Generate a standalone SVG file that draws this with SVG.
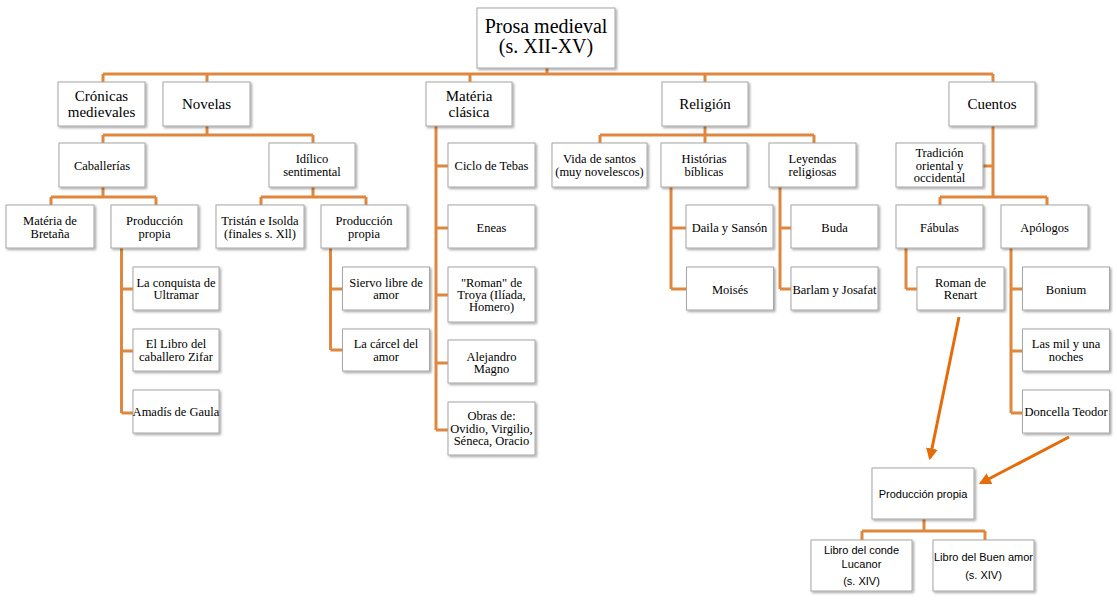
<svg xmlns="http://www.w3.org/2000/svg" width="1117" height="602" viewBox="0 0 1117 602">
<style>
.b{fill:#fff;stroke:#a6a6a6;stroke-width:1;filter:url(#sh)}
text{font-family:"Liberation Serif","Times New Roman",serif;fill:#000;text-anchor:middle}
.s{font-size:12.5px}
.m{font-size:15px}
.l{font-size:20px}
.ss{font-family:"Liberation Sans",Arial,sans-serif;font-size:11px}
.c{fill:none;stroke:#e0873f;stroke-width:3}
.a{fill:none;stroke:#e46c0a;stroke-width:3}
</style>
<defs>
<filter id="sh" x="-10%" y="-10%" width="130%" height="130%">
<feDropShadow dx="1.5" dy="1.5" stdDeviation="0.8" flood-color="#000" flood-opacity="0.35"/>
</filter>
<marker id="ah" viewBox="0 0 10 10" refX="8" refY="5" markerWidth="4" markerHeight="4" orient="auto" markerUnits="strokeWidth">
<path d="M0,0 L10,5 L0,10 z" fill="#e46c0a"/>
</marker>
</defs>
<rect width="1117" height="602" fill="#fff"/>
<g id="connectors">
<path class="c" d="M547,67V74 M103,74H993 M103,74V82 M207,74V82 M470,74V82 M705,74V82 M993,74V82"/>
<path class="c" d="M207,126V135 M103,135H313 M103,135V143 M313,135V143"/>
<path class="c" d="M705,126V135 M600,135H814 M600,135V143 M705,135V143 M814,135V143"/>
<path class="c" d="M436,126V430 M436,166H448 M436,228H448 M436,295H448 M436,363H448 M436,430H448"/>
<path class="c" d="M993,126V197 M983,166H993 M940,197H1047 M940,197V205 M1047,197V205"/>
<path class="c" d="M103,187V197 M51,197H156 M51,197V205 M156,197V205"/>
<path class="c" d="M313,187V197 M261,197H366 M261,197V205 M366,197V205"/>
<path class="c" d="M671,187V289 M671,228H686 M671,289H686"/>
<path class="c" d="M780,187V289 M780,228H791 M780,289H791"/>
<path class="c" d="M906,248V289 M906,289H917"/>
<path class="c" d="M1011,248V413 M1011,289H1022 M1011,351H1022 M1011,413H1022"/>
<path class="c" d="M121.5,248V413 M121.5,289H133 M121.5,351H133 M121.5,413H133"/>
<path class="c" d="M330.5,248V350 M330.5,289H342 M330.5,350H342"/>
<path class="c" d="M924,519V531 M862,531H985 M862,531V540 M985,531V540"/>
<line class="a" x1="959" y1="317" x2="930" y2="458" marker-end="url(#ah)"/>
<line class="a" x1="1069" y1="437" x2="981" y2="483" marker-end="url(#ah)"/>
</g>
<g id="root"><rect class="b" x="477" y="8" width="138" height="60"/><text class="l" x="546" y="33">Prosa medieval</text><text class="l" x="546" y="53">(s. XII-XV)</text></g>
<g id="cronicas"><rect class="b" x="58" y="82" width="87" height="44"/><text class="m" x="101.5" y="101">Crónicas</text><text class="m" x="101.5" y="117">medievales</text></g>
<g id="novelas"><rect class="b" x="163" y="82" width="87" height="44"/><text class="m" x="206.5" y="109">Novelas</text></g>
<g id="materia"><rect class="b" x="426" y="82" width="86" height="44"/><text class="m" x="469" y="101">Matéria</text><text class="m" x="469" y="117">clásica</text></g>
<g id="religion"><rect class="b" x="662" y="82" width="86" height="44"/><text class="m" x="705" y="109">Religión</text></g>
<g id="cuentos"><rect class="b" x="949" y="82" width="86" height="44"/><text class="m" x="992" y="109">Cuentos</text></g>
<g id="caballerias"><rect class="b" x="59" y="143" width="86" height="44"/><text class="s" x="102" y="169.5">Caballerías</text></g>
<g id="idilico"><rect class="b" x="269" y="143" width="86" height="44"/><text class="s" x="312" y="163">Idílico</text><text class="s" x="312" y="176">sentimental</text></g>
<g id="ciclo"><rect class="b" x="448" y="143" width="87" height="44"/><text class="s" x="491.5" y="169.5">Ciclo de Tebas</text></g>
<g id="vida"><rect class="b" x="552" y="143" width="95" height="44"/><text class="s" x="599.5" y="163">Vida de santos</text><text class="s" x="599.5" y="176">(muy novelescos)</text></g>
<g id="historias"><rect class="b" x="661" y="143" width="86" height="44"/><text class="s" x="704" y="163">Histórias</text><text class="s" x="704" y="176">bíblicas</text></g>
<g id="leyendas"><rect class="b" x="769" y="143" width="87" height="44"/><text class="s" x="812.5" y="163">Leyendas</text><text class="s" x="812.5" y="176">religiosas</text></g>
<g id="tradicion"><rect class="b" x="896" y="143" width="87" height="44"/><text class="s" x="939.5" y="157">Tradición</text><text class="s" x="939.5" y="169.5">oriental y</text><text class="s" x="939.5" y="181.5">occidental</text></g>
<g id="bretana"><rect class="b" x="6" y="205" width="88" height="43"/><text class="s" x="50" y="225">Matéria de</text><text class="s" x="50" y="238">Bretaña</text></g>
<g id="prod1"><rect class="b" x="111" y="205" width="87" height="43"/><text class="s" x="154.5" y="225">Producción</text><text class="s" x="154.5" y="238">propia</text></g>
<g id="tristan"><rect class="b" x="216" y="205" width="88" height="43"/><text class="s" x="260" y="225">Tristán e Isolda</text><text class="s" x="260" y="238">(finales s. Xll)</text></g>
<g id="prod2"><rect class="b" x="321" y="205" width="86" height="43"/><text class="s" x="364" y="225">Producción</text><text class="s" x="364" y="238">propia</text></g>
<g id="eneas"><rect class="b" x="448" y="205" width="87" height="43"/><text class="s" x="491.5" y="232">Eneas</text></g>
<g id="daila"><rect class="b" x="686" y="205" width="87" height="43"/><text class="s" x="729.5" y="232">Daila y Sansón</text></g>
<g id="buda"><rect class="b" x="791" y="205" width="87" height="43"/><text class="s" x="834.5" y="232">Buda</text></g>
<g id="fabulas"><rect class="b" x="896" y="205" width="87" height="43"/><text class="s" x="939.5" y="232">Fábulas</text></g>
<g id="apologos"><rect class="b" x="1001" y="205" width="87" height="43"/><text class="s" x="1044.5" y="232">Apólogos</text></g>
<g id="conquista"><rect class="b" x="133" y="267" width="86" height="43"/><text class="s" x="176" y="286.5">La conquista de</text><text class="s" x="176" y="299">Ultramar</text></g>
<g id="zifar"><rect class="b" x="133" y="329" width="86" height="42"/><text class="s" x="176" y="348">El Libro del</text><text class="s" x="176" y="361">caballero Zifar</text></g>
<g id="amadis"><rect class="b" x="133" y="390" width="86" height="43"/><text class="s" x="176" y="416">Amadís de Gaula</text></g>
<g id="siervo"><rect class="b" x="342.5" y="267" width="87" height="43"/><text class="s" x="386" y="286.5">Siervo libre de</text><text class="s" x="386" y="299">amor</text></g>
<g id="carcel"><rect class="b" x="342.5" y="329" width="87" height="42"/><text class="s" x="386" y="348">La cárcel del</text><text class="s" x="386" y="361">amor</text></g>
<g id="troya"><rect class="b" x="448" y="267" width="87" height="55"/><text class="s" x="491.5" y="286.5">"Roman" de</text><text class="s" x="491.5" y="299">Troya (Ilíada,</text><text class="s" x="491.5" y="311">Homero)</text></g>
<g id="alejandro"><rect class="b" x="448" y="340" width="87" height="43"/><text class="s" x="491.5" y="360.5">Alejandro</text><text class="s" x="491.5" y="373">Magno</text></g>
<g id="obras"><rect class="b" x="448" y="402" width="87" height="53"/><text class="s" x="491.5" y="420">Obras de:</text><text class="s" x="491.5" y="433">Ovidio, Virgilio,</text><text class="s" x="491.5" y="445">Séneca, Oracio</text></g>
<g id="moises"><rect class="b" x="686.5" y="267" width="87" height="43"/><text class="s" x="730" y="293.5">Moisés</text></g>
<g id="barlam"><rect class="b" x="791" y="267" width="87" height="43"/><text class="s" x="834.5" y="293.5">Barlam y Josafat</text></g>
<g id="renart"><rect class="b" x="917" y="267" width="87" height="43"/><text class="s" x="960.5" y="286.5">Roman de</text><text class="s" x="960.5" y="299">Renart</text></g>
<g id="bonium"><rect class="b" x="1022.5" y="267" width="87" height="43"/><text class="s" x="1066" y="293.5">Bonium</text></g>
<g id="milnoches"><rect class="b" x="1022.5" y="329" width="87" height="42"/><text class="s" x="1066" y="348">Las mil y una</text><text class="s" x="1066" y="361">noches</text></g>
<g id="teodor"><rect class="b" x="1022.5" y="390" width="87" height="43"/><text class="s" x="1066" y="416">Doncella Teodor</text></g>
<g id="prodbottom"><rect class="b" x="872" y="468" width="102" height="51"/><text class="ss" x="923" y="498">Producción  propia</text></g>
<g id="lucanor"><rect class="b" x="811" y="540" width="101" height="51"/><text class="ss" x="861.5" y="554">Libro del conde</text><text class="ss" x="861.5" y="567.5">Lucanor</text><text class="ss" x="861.5" y="585">(s. XIV)</text></g>
<g id="buenamor"><rect class="b" x="933" y="540" width="101" height="51"/><text class="ss" x="983.5" y="561">Libro del Buen amor</text><text class="ss" x="983.5" y="579">(s. XIV)</text></g>
</svg>
